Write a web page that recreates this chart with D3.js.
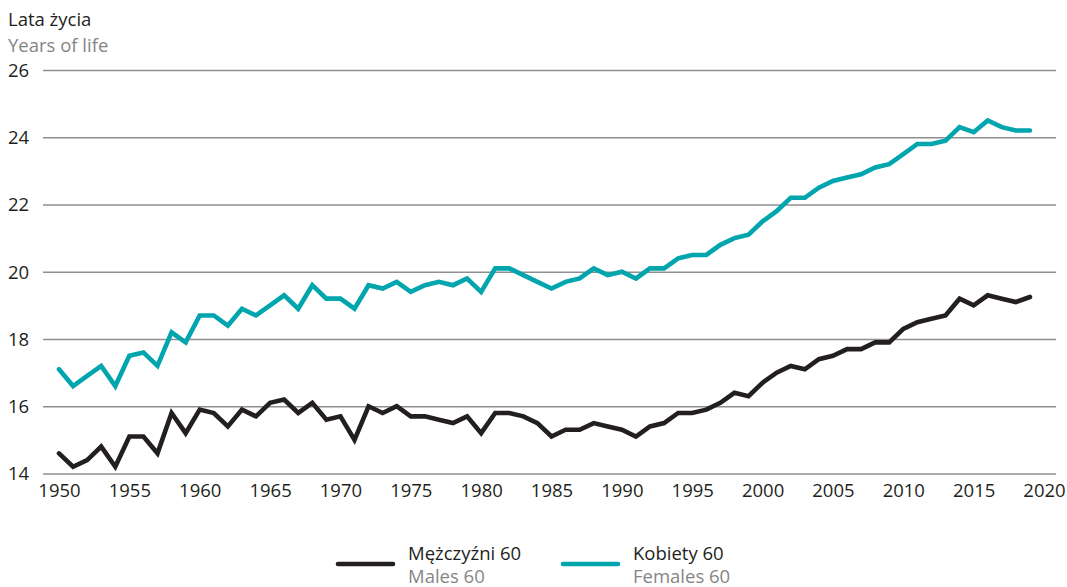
<!DOCTYPE html>
<html>
<head>
<meta charset="utf-8">
<script src="https://cdn.jsdelivr.net/npm/d3@7"></script>
<style>
  body { margin: 0; background: #fff; }
  svg text { font-family: "Open Sans", sans-serif; }
</style>
</head>
<body>
<script>
// chart size
let fullSVGWidth = 1067;
let fullSVGHeight = 587;
let fontSize = "18.5px";

// data
let years = d3.range(1950, 2020);
let males60 = [
    14.6, 14.2, 14.4, 14.8, 14.2, 15.1, 15.1, 14.6, 15.8, 15.2,
    15.9, 15.8, 15.4, 15.9, 15.7, 16.1, 16.2, 15.8, 16.1, 15.6,
    15.7, 15.0, 16.0, 15.8, 16.0, 15.7, 15.7, 15.6, 15.5, 15.7,
    15.2, 15.8, 15.8, 15.7, 15.5, 15.1, 15.3, 15.3, 15.5, 15.4,
    15.3, 15.1, 15.4, 15.5, 15.8, 15.8, 15.9, 16.1, 16.4, 16.3,
    16.7, 17.0, 17.2, 17.1, 17.4, 17.5, 17.7, 17.7, 17.9, 17.9,
    18.3, 18.5, 18.6, 18.7, 19.2, 19.0, 19.3, 19.2, 19.1, 19.25
];
let females60 = [
    17.1, 16.6, 16.9, 17.2, 16.6, 17.5, 17.6, 17.2, 18.2, 17.9,
    18.7, 18.7, 18.4, 18.9, 18.7, 19.0, 19.3, 18.9, 19.6, 19.2,
    19.2, 18.9, 19.6, 19.5, 19.7, 19.4, 19.6, 19.7, 19.6, 19.8,
    19.4, 20.1, 20.1, 19.9, 19.7, 19.5, 19.7, 19.8, 20.1, 19.9,
    20.0, 19.8, 20.1, 20.1, 20.4, 20.5, 20.5, 20.8, 21.0, 21.1,
    21.5, 21.8, 22.2, 22.2, 22.5, 22.7, 22.8, 22.9, 23.1, 23.2,
    23.5, 23.8, 23.8, 23.9, 24.3, 24.15, 24.5, 24.3, 24.2, 24.2
];
let yTicks = [14, 16, 18, 20, 22, 24, 26];
let xTicks = [1950, 1955, 1960, 1965, 1970, 1975, 1980, 1985, 1990, 1995, 2000, 2005, 2010, 2015, 2020];

let series = [
    { pl: "Mężczyźni 60", en: "Males 60", values: males60, color: "#231f20" },
    { pl: "Kobiety 60", en: "Females 60", values: females60, color: "#00a5ad" }
];

// scales
let x = d3.scaleLinear().domain([1950, 2020]).range([59, 1044]);
let y = d3.scaleLinear().domain([14, 26]).range([473.5, 70]);

let svg = d3.select("body")
    .append("svg")
    .attr("width", fullSVGWidth)
    .attr("height", fullSVGHeight);

// axis titles
svg.append("text")
    .attr("x", 8).attr("y", 26)
    .style("font-size", fontSize)
    .style("fill", "#231f20")
    .text("Lata życia");

svg.append("text")
    .attr("x", 8).attr("y", 52)
    .style("font-size", fontSize)
    .style("fill", "#858585")
    .text("Years of life");

// y gridlines + labels
let yAxis = d3.axisLeft(y)
    .tickValues(yTicks)
    .tickSize(-(1056 - 43))
    .tickPadding(10)
    .tickFormat(d3.format("d"));

let gy = svg.append("g")
    .attr("transform", "translate(43,0)")
    .call(yAxis);
gy.select(".domain").remove();
gy.selectAll(".tick line")
    .attr("stroke", "#8f8f8f")
    .attr("stroke-width", 1.4);
gy.selectAll(".tick text")
    .style("font-size", fontSize)
    .style("fill", "#231f20")
    .attr("text-anchor", "start")
    .attr("x", -35)
    .attr("dy", "0.35em");

// x labels
let xAxis = d3.axisBottom(x)
    .tickValues(xTicks)
    .tickSize(0)
    .tickPadding(0)
    .tickFormat(d3.format("d"));

let gx = svg.append("g")
    .attr("transform", "translate(0,480)")
    .call(xAxis);
gx.select(".domain").remove();
gx.selectAll(".tick text")
    .style("font-size", fontSize)
    .style("fill", "#231f20")
    .attr("dy", "0.71em")
    .attr("y", 4);

// lines
let line = d3.line()
    .x(function(d, i) { return x(years[i]); })
    .y(function(d) { return y(d); });

svg.selectAll("path.series")
    .data(series)
    .enter()
    .append("path")
    .attr("class", "series")
    .attr("d", function(d) { return line(d.values); })
    .attr("fill", "none")
    .attr("stroke", function(d) { return d.color; })
    .attr("stroke-width", 4.6)
    .attr("stroke-linejoin", "miter")
    .attr("stroke-linecap", "round");

// legend
let legend = svg.selectAll("g.legend")
    .data(series)
    .enter()
    .append("g")
    .attr("class", "legend")
    .attr("transform", function(d, i) { return "translate(" + (338 + i * 225) + ",0)"; });

legend.append("line")
    .attr("x1", 0).attr("x2", 55)
    .attr("y1", 564).attr("y2", 564)
    .attr("stroke", function(d) { return d.color; })
    .attr("stroke-width", 4.6)
    .attr("stroke-linecap", "round");

legend.append("text")
    .attr("x", 70).attr("y", 560)
    .style("font-size", fontSize)
    .style("fill", "#231f20")
    .text(function(d) { return d.pl; });

legend.append("text")
    .attr("x", 70).attr("y", 583)
    .style("font-size", fontSize)
    .style("fill", "#858585")
    .text(function(d) { return d.en; });
</script>
</body>
</html>
